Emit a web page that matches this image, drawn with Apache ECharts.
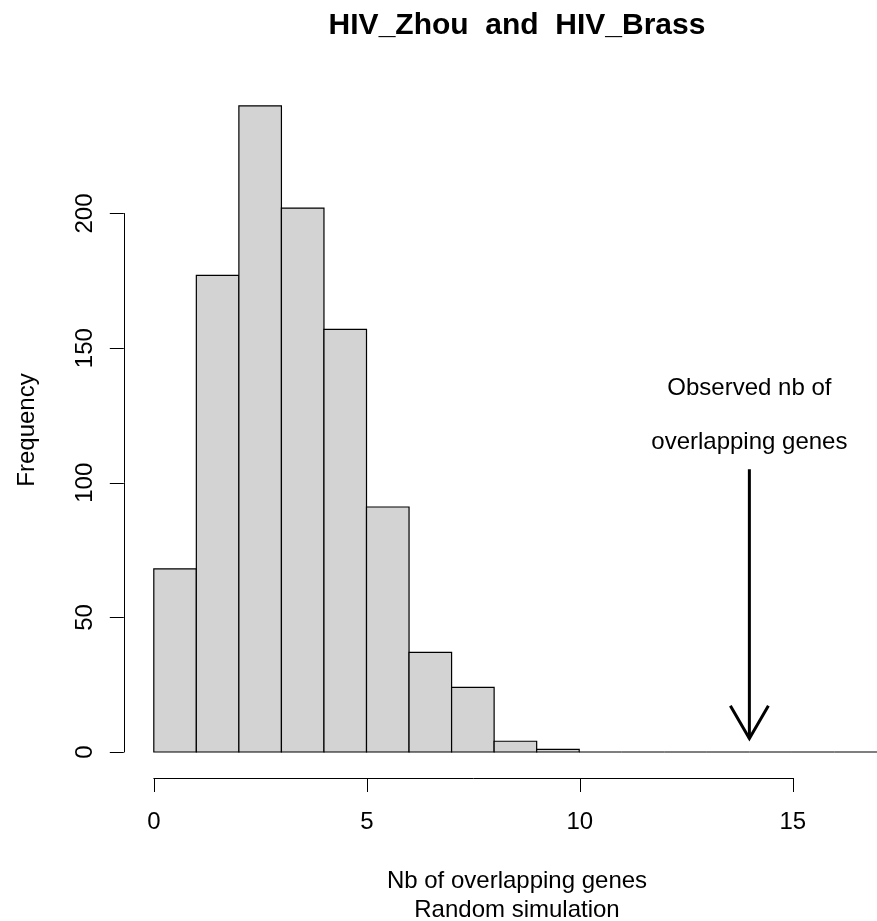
<!DOCTYPE html>
<html>
<head>
<meta charset="utf-8">
<script src="https://cdn.jsdelivr.net/npm/echarts@6/dist/echarts.min.js"></script>
<style>
html,body{margin:0;padding:0;background:#fff;}
#chart{width:877px;height:921px;}
</style>
</head>
<body>
<div id="chart"></div>
<script>
// Histogram data (bin edges and counts)
const binStarts = [0, 1, 2, 3, 4, 5, 6, 7, 8, 9, 10, 11, 12, 13, 14, 15, 16];
const binEnds   = [1, 2, 3, 4, 5, 6, 7, 8, 9, 10, 11, 12, 13, 14, 15, 16, 17];
const counts    = [68, 177, 240, 202, 157, 91, 37, 24, 4, 1, 0, 0, 0, 0, 0, 0, 0];
// Axis ticks
const xTicks = [0, 5, 10, 15];
const yTicks = [0, 50, 100, 150, 200];
// Annotation (observed value)
const observedX = 14;
const arrowFrom = 105;
const arrowTo = 5;
const noteTexts = ['Observed nb of', 'overlapping genes'];
const noteYs = [135, 115];

const FONT = "'Liberation Sans', Arial, Helvetica, sans-serif";
const chart = echarts.init(document.getElementById('chart'), null, {renderer: 'canvas'});

const histData = binStarts.map((s, i) => [s, binEnds[i], counts[i]]);
const noteData = noteTexts.map((t, i) => [observedX, noteYs[i], t]);

const option = {
  animation: false,
  backgroundColor: '#fff',
  grid: [
    {left: 153.8, top: 105.8, width: 724.2, height: 646.2},
    {left: 153.8, top: 213.5, width: 639, height: 538.5}
  ],
  xAxis: [
    {type: 'value', gridIndex: 0, min: 0, max: 17, show: false},
    {type: 'value', gridIndex: 1, min: 0, max: xTicks[xTicks.length - 1], interval: 5,
     offset: 26, position: 'bottom',
     axisLine: {show: true, onZero: false, lineStyle: {color: '#000', width: 1}},
     axisTick: {show: true, length: 14, lineStyle: {color: '#000', width: 1}},
     splitLine: {show: false},
     axisLabel: {fontFamily: FONT, fontSize: 24, color: '#000', margin: 32}}
  ],
  yAxis: [
    {type: 'value', gridIndex: 0, min: 0, max: 240, show: false},
    {type: 'value', gridIndex: 1, min: 0, max: yTicks[yTicks.length - 1], interval: 50,
     offset: 30, position: 'left',
     axisLine: {show: true, onZero: false, lineStyle: {color: '#000', width: 1}},
     axisTick: {show: true, length: 14, lineStyle: {color: '#000', width: 1}},
     splitLine: {show: false},
     axisLabel: {fontFamily: FONT, fontSize: 24, color: '#000', margin: 26, rotate: 90}}
  ],
  graphic: [
    {type: 'text', x: 517, y: 26, style: {text: 'HIV_Zhou  and  HIV_Brass', font: 'bold 30px ' + FONT, fill: '#000', textAlign: 'center', textVerticalAlign: 'middle'}},
    {type: 'text', x: 27, y: 430, rotation: Math.PI / 2, style: {text: 'Frequency', font: '24px ' + FONT, fill: '#000', textAlign: 'center', textVerticalAlign: 'middle'}},
    {type: 'text', x: 517, y: 881, style: {text: 'Nb of overlapping genes', font: '24px ' + FONT, fill: '#000', textAlign: 'center', textVerticalAlign: 'middle'}},
    {type: 'text', x: 517, y: 910, style: {text: 'Random simulation', font: '24px ' + FONT, fill: '#000', textAlign: 'center', textVerticalAlign: 'middle'}}
  ],
  series: [
    {
      type: 'custom', xAxisIndex: 0, yAxisIndex: 0, data: histData,
      renderItem: function (params, api) {
        const p0 = api.coord([api.value(0), api.value(2)]);
        const p1 = api.coord([api.value(1), 0]);
        return {type: 'rect', shape: {x: p0[0], y: p0[1], width: p1[0] - p0[0], height: p1[1] - p0[1]},
          style: {fill: '#d3d3d3', stroke: '#000', lineWidth: 1.2}};
      }
    },
    {
      type: 'custom', xAxisIndex: 0, yAxisIndex: 0, data: [[observedX, arrowFrom, arrowTo]],
      renderItem: function (params, api) {
        const top = api.coord([api.value(0), api.value(1)]);
        const tip = api.coord([api.value(0), api.value(2)]);
        const len = 38, ang = Math.PI / 6;
        const dx = len * Math.sin(ang), dy = len * Math.cos(ang);
        const st = {stroke: '#000', lineWidth: 3, fill: null};
        return {type: 'group', children: [
          {type: 'line', shape: {x1: top[0], y1: top[1], x2: tip[0], y2: tip[1]}, style: st},
          {type: 'polyline', shape: {points: [[tip[0] - dx, tip[1] - dy], [tip[0], tip[1]], [tip[0] + dx, tip[1] - dy]]}, style: st}
        ]};
      }
    },
    {
      type: 'custom', xAxisIndex: 0, yAxisIndex: 0, data: noteData,
      renderItem: function (params, api) {
        const p = api.coord([api.value(0), api.value(1)]);
        return {type: 'text', x: p[0], y: p[1], style: {text: noteData[params.dataIndex][2], font: '24px ' + FONT, fill: '#000', textAlign: 'center', textVerticalAlign: 'middle'}};
      }
    }
  ]
};
chart.setOption(option);
</script>
</body>
</html>
